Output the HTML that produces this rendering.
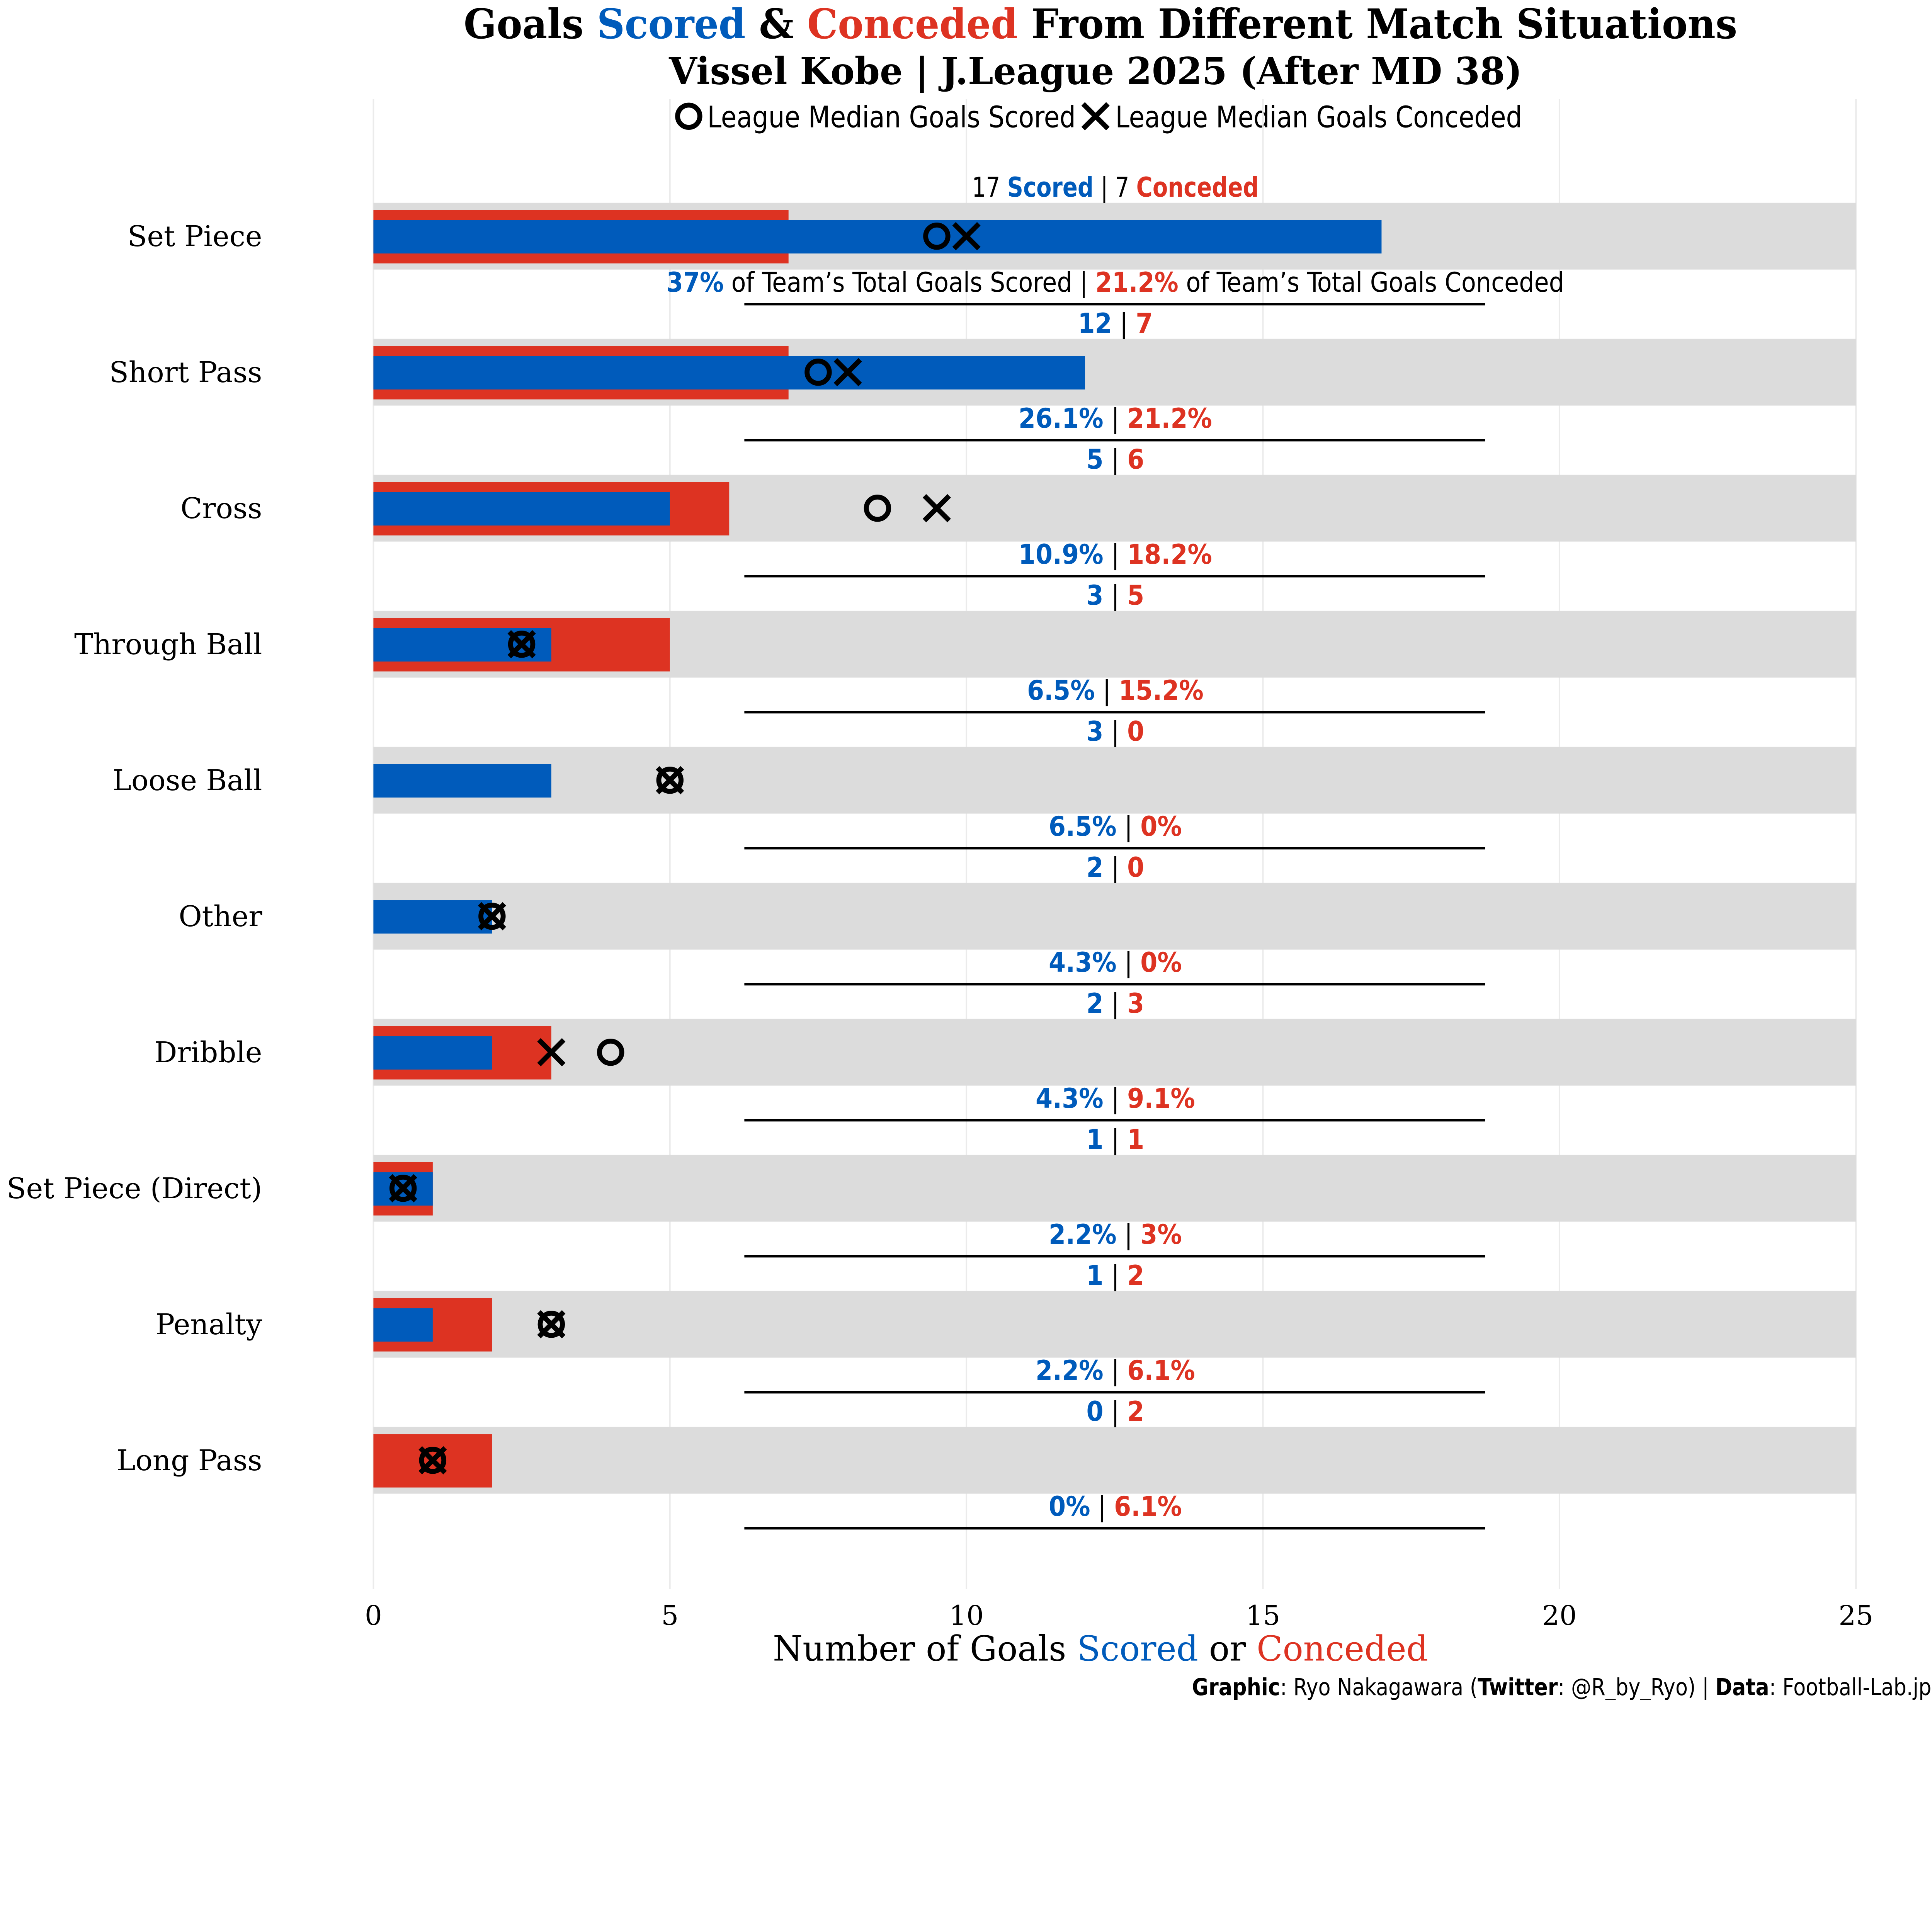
<!DOCTYPE html>
<html><head><meta charset="utf-8">
<style>
html,body{margin:0;padding:0;background:#fff;overflow:hidden;width:100vw;}
svg{display:block;width:100vw;height:88vw;}
</style></head>
<body>
<svg id="chart" viewBox="0 0 1562.5 1375" preserveAspectRatio="xMidYMin meet" xmlns="http://www.w3.org/2000/svg">
<g text-anchor="middle">
<text x="890" y="31" font-family="'DejaVu Serif','Liberation Serif',serif" font-weight="bold" font-size="33" textLength="1030" lengthAdjust="spacingAndGlyphs">Goals <tspan fill="#005BBB">Scored</tspan> &amp; <tspan fill="#DD3322">Conceded</tspan> From Different Match Situations</text>
<text x="886" y="68" font-family="'DejaVu Serif','Liberation Serif',serif" font-weight="bold" font-size="30" textLength="690" lengthAdjust="spacingAndGlyphs">Vissel Kobe | J.League 2025 (After MD 38)</text>
</g>
<g font-family="'DejaVu Sans Condensed','Liberation Sans',sans-serif" font-size="24">
<circle cx="557" cy="94" r="9" fill="none" stroke="#000" stroke-width="4"/>
<text x="572" y="103" textLength="298" lengthAdjust="spacingAndGlyphs">League Median Goals Scored</text>
<path d="M876,84 L896,104 M896,84 L876,104" stroke="#000" stroke-width="4"/>
<text x="902" y="103" textLength="329" lengthAdjust="spacingAndGlyphs">League Median Goals Conceded</text>
</g>
<g id="grid"></g>
<g id="rows"></g>
<g id="xaxis"></g>
<text x="890" y="1343" text-anchor="middle" font-family="'DejaVu Serif','Liberation Serif',serif" font-size="28" textLength="530" lengthAdjust="spacingAndGlyphs">Number of Goals <tspan fill="#005BBB">Scored</tspan> or <tspan fill="#DD3322">Conceded</tspan></text>
<text x="1562" y="1371" text-anchor="end" font-family="'DejaVu Sans Condensed','Liberation Sans',sans-serif" font-size="19" textLength="598" lengthAdjust="spacingAndGlyphs"><tspan font-weight="bold">Graphic</tspan>: Ryo Nakagawara (<tspan font-weight="bold">Twitter</tspan>: @R_by_Ryo) | <tspan font-weight="bold">Data</tspan>: Football-Lab.jp</text>
</svg>
<script>
const categories = ["Set Piece","Short Pass","Cross","Through Ball","Loose Ball","Other","Dribble","Set Piece (Direct)","Penalty","Long Pass"];
const scored = [17,12,5,3,3,2,2,1,1,0];
const conceded = [7,7,6,5,0,0,3,1,2,2];
const medianScored = [9.5,7.5,8.5,2.5,5,2,4,0.5,3,1];
const medianConceded = [10,8,9.5,2.5,5,2,3,0.5,3,1];
const xTicks = [0,5,10,15,20,25];

const NS = "http://www.w3.org/2000/svg";
const BLUE = "#005BBB", RED = "#DD3322";
const X0 = 302, X1 = 1501, XMAX = 25;
const xs = v => X0 + (v / XMAX) * (X1 - X0);
const ys = i => 191 + i * 110;
function mk(tag, attrs, parent, text) {
  const e = document.createElementNS(NS, tag);
  for (const k in attrs) e.setAttribute(k, attrs[k]);
  if (text !== undefined) e.textContent = text;
  parent.appendChild(e);
  return e;
}
function pct(v, t) { const p = Math.round(v / t * 1000) / 10; return String(p).replace(/\.0$/, "") + "%"; }
const totS = scored.reduce((a, b) => a + b, 0);
const totC = conceded.reduce((a, b) => a + b, 0);

const grid = document.getElementById("grid");
const xaxis = document.getElementById("xaxis");
xTicks.forEach(t => {
  const l = mk("line", {x1: xs(t), x2: xs(t), y1: 80, y2: 1285, stroke: "#ebebeb", "stroke-width": 1.2}, grid);
  
  
  const tx = mk("text", {x: xs(t), y: 1314, "text-anchor": "middle", "font-family": "'DejaVu Serif','Liberation Serif',serif", "font-size": 22}, xaxis, String(t));
  
  
});

const rows = document.getElementById("rows");
const narrow = "'DejaVu Sans Condensed','Liberation Sans',sans-serif";
categories.forEach((c, i) => {
  const y = ys(i);
  const g = mk("g", {}, rows);
  
  
  const band = mk("rect", {x: X0, y: y - 27, width: X1 - X0, height: 54, fill: "#dcdcdc"}, g);
  
  
  const rb = mk("rect", {x: X0, y: y - 21, width: xs(conceded[i]) - X0, height: 43, fill: RED}, g);
  
  
  const bb = mk("rect", {x: X0, y: y - 13, width: xs(scored[i]) - X0, height: 27, fill: BLUE}, g);
  
  
  const cx = xs(medianScored[i]);
  const circ = mk("circle", {cx: cx, cy: y, r: 9, fill: "none", stroke: "#000", "stroke-width": 4}, g);
  
  
  const xx = xs(medianConceded[i]);
  const xm = mk("path", {d: `M${xx-10},${y-10} L${xx+10},${y+10} M${xx+10},${y-10} L${xx-10},${y+10}`, stroke: "#000", "stroke-width": 4}, g);
  
  
  const lab = mk("text", {x: 212, y: y + 8, "text-anchor": "end", "font-family": "'DejaVu Serif','Liberation Serif',serif", "font-size": 23}, g, c);
  
  
  const cl = mk("text", {x: 902, y: y - 32, "text-anchor": "middle", "font-family": narrow, "font-size": 22}, g);
  
  
  const pl = mk("text", {x: 902, y: y + 45, "text-anchor": "middle", "font-family": narrow, "font-size": 22}, g);
  
  
  if (i === 0) {
    cl.setAttribute('textLength', '232');
    cl.setAttribute('lengthAdjust', 'spacingAndGlyphs');
    pl.setAttribute('textLength', '726');
    pl.setAttribute('lengthAdjust', 'spacingAndGlyphs');
    mk("tspan", {}, cl, scored[i] + " ");
    mk("tspan", {fill: BLUE, "font-weight": "bold"}, cl, "Scored");
    mk("tspan", {}, cl, " | " + conceded[i] + " ");
    mk("tspan", {fill: RED, "font-weight": "bold"}, cl, "Conceded");
    mk("tspan", {fill: BLUE, "font-weight": "bold"}, pl, pct(scored[i], totS));
    mk("tspan", {}, pl, " of Team\u2019s Total Goals Scored | ");
    mk("tspan", {fill: RED, "font-weight": "bold"}, pl, pct(conceded[i], totC));
    mk("tspan", {}, pl, " of Team\u2019s Total Goals Conceded");
  } else {
    mk("tspan", {fill: BLUE, "font-weight": "bold"}, cl, String(scored[i]));
    mk("tspan", {}, cl, " | ");
    mk("tspan", {fill: RED, "font-weight": "bold"}, cl, String(conceded[i]));
    mk("tspan", {fill: BLUE, "font-weight": "bold"}, pl, pct(scored[i], totS));
    mk("tspan", {}, pl, " | ");
    mk("tspan", {fill: RED, "font-weight": "bold"}, pl, pct(conceded[i], totC));
  }
  const sep = mk("line", {x1: 602, x2: 1201, y1: y + 55, y2: y + 55, stroke: "#000", "stroke-width": 2}, g);
  
  
});
</script>
</body></html>
